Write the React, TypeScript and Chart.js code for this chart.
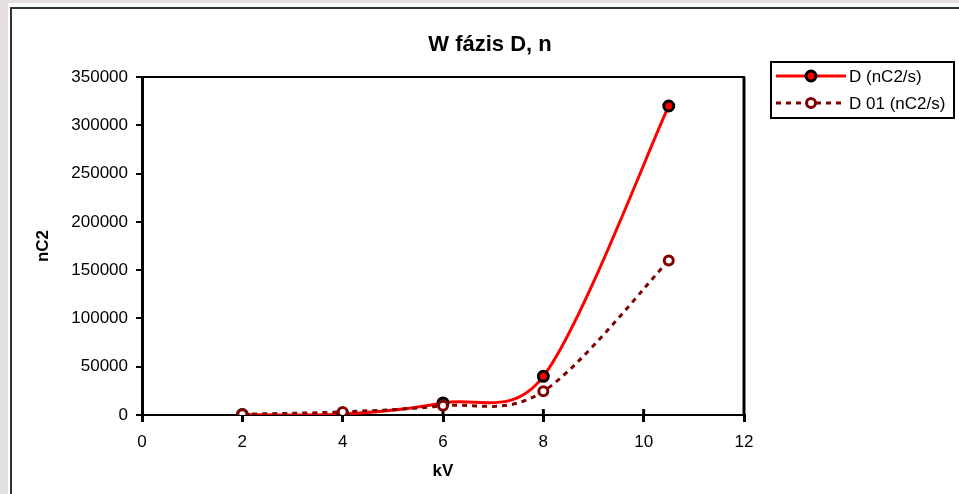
import React, { useEffect, useRef } from "react";
import { Chart, registerables } from "chart.js";

Chart.register(...registerables);

const chartTitle = "W fázis D, n";
const xAxisTitle = "kV";
const yAxisTitle = "nC2";
const xValues = [2, 4, 6, 8, 10.5];
const seriesD = [500, 1000, 12500, 40000, 320000];
const seriesD01 = [800, 3200, 9500, 24500, 160000];
const labelD = "D (nC2/s)";
const labelD01 = "D 01 (nC2/s)";

const RED = "#ff0000";
const DARK_RED = "#800000";
const FONT = "Arial, 'Liberation Sans', sans-serif";

// Excel-like smoothing: handles = (next - prev) / 6, limited to half the adjacent segment
const excelSmoothPlugin = {
  id: "excelSmooth",
  beforeDatasetDraw(chart: any, args: any) {
    const meta = args.meta;
    const line = meta.dataset;
    if (!line) return;
    line.updateControlPoints(chart.chartArea, "x");
    const pts = meta.data;
    const n = pts.length;
    const dist = (a: any, b: any) => Math.hypot(a.x - b.x, a.y - b.y);
    for (let i = 0; i < n; i++) {
      const p = pts[i];
      const prev = pts[Math.max(0, i - 1)];
      const next = pts[Math.min(n - 1, i + 1)];
      const hx = (next.x - prev.x) / 6;
      const hy = (next.y - prev.y) / 6;
      const hl = Math.hypot(hx, hy) || 1;
      const d01 = dist(prev, p);
      const d12 = dist(p, next);
      const s0 = Math.min(1, d01 / 2 / hl);
      const s1 = Math.min(1, d12 / 2 / hl);
      p.cp1x = p.x - hx * s0;
      p.cp1y = p.y - hy * s0;
      p.cp2x = p.x + hx * s1;
      p.cp2y = p.y + hy * s1;
    }
    line._path = undefined;
  },
};

const overlayPlugin = {
  id: "overlay",
  beforeDatasetsDraw(chart: any) {
    const { ctx, chartArea } = chart;
    const { left, right, top, bottom } = chartArea;
    ctx.save();
    ctx.strokeStyle = "#000";
    ctx.lineWidth = 2;
    ctx.beginPath();
    ctx.moveTo(left, top);
    ctx.lineTo(right + 1, top);
    ctx.stroke();
    ctx.lineWidth = 3;
    ctx.beginPath();
    ctx.moveTo(right, top);
    ctx.lineTo(right, bottom);
    ctx.stroke();
    const xs = chart.scales.x;
    ctx.lineWidth = 3;
    xs.ticks.forEach((t: any) => {
      const px = xs.getPixelForValue(t.value);
      if (px <= left + 2 || px >= right - 2) return;
      ctx.beginPath();
      ctx.moveTo(px, bottom - 6);
      ctx.lineTo(px, bottom);
      ctx.stroke();
    });
    ctx.restore();
  },
  afterDraw(chart: any) {
    const { ctx } = chart;
    ctx.save();
    ctx.fillStyle = "#000";
    ctx.font = `bold 22px ${FONT}`;
    ctx.textAlign = "center";
    ctx.textBaseline = "middle";
    ctx.fillText(chartTitle, 490, 45);

    const bx = 771, by = 62, bw = 183, bh = 56;
    ctx.lineWidth = 2;
    ctx.strokeStyle = "#000";
    ctx.strokeRect(bx, by, bw, bh);
    const rows = [
      { y: 76, label: labelD, color: RED, dash: [] as number[], fill: RED, stroke: "#000", r: 5 },
      { y: 103, label: labelD01, color: DARK_RED, dash: [5, 5], fill: "#fff", stroke: DARK_RED, r: 4.5 },
    ];
    rows.forEach((row) => {
      ctx.save();
      ctx.strokeStyle = row.color;
      ctx.lineWidth = 3;
      ctx.setLineDash(row.dash);
      ctx.beginPath();
      ctx.moveTo(776, row.y);
      ctx.lineTo(846, row.y);
      ctx.stroke();
      ctx.setLineDash([]);
      ctx.beginPath();
      ctx.arc(811, row.y, row.r, 0, Math.PI * 2);
      ctx.fillStyle = row.fill;
      ctx.fill();
      ctx.strokeStyle = row.stroke;
      ctx.lineWidth = 3;
      ctx.stroke();
      ctx.restore();
      ctx.fillStyle = "#000";
      ctx.font = `17px ${FONT}`;
      ctx.textAlign = "left";
      ctx.textBaseline = "middle";
      ctx.fillText(row.label, 849, row.y + 1);
    });
    ctx.restore();
  },
};

export default function App() {
  const canvasRef = useRef<HTMLCanvasElement | null>(null);

  useEffect(() => {
    if (!canvasRef.current) return;
    const chart = new Chart(canvasRef.current, {
      type: "line",
      data: {
        datasets: [
          {
            label: labelD01,
            data: xValues.map((x, i) => ({ x, y: seriesD01[i] })),
            borderColor: DARK_RED,
            borderWidth: 3,
            borderDash: [5, 5],
            backgroundColor: "#fff",
            pointBackgroundColor: "#fff",
            pointBorderColor: DARK_RED,
            pointBorderWidth: 3,
            pointRadius: 4.5,
            tension: 0.3,
            fill: false,
          },
          {
            label: labelD,
            data: xValues.map((x, i) => ({ x, y: seriesD[i] })),
            borderColor: RED,
            borderWidth: 3,
            backgroundColor: RED,
            pointBackgroundColor: RED,
            pointBorderColor: "#000",
            pointBorderWidth: 3,
            pointRadius: 5,
            tension: 0.3,
            fill: false,
          },
        ],
      },
      options: {
        responsive: false,
        animation: false,
        layout: { padding: { left: 0, top: 77, right: 215, bottom: 0 } },
        plugins: {
          legend: { display: false },
          title: { display: false },
          tooltip: { enabled: false },
        },
        scales: {
          x: {
            type: "linear",
            min: 0,
            max: 12,
            afterFit: (s: any) => {
              s.height = 79;
            },
            ticks: {
              stepSize: 2,
              font: { family: FONT, size: 17 },
              color: "#000",
              padding: 10,
              maxRotation: 0,
            },
            grid: {
              display: true,
              drawOnChartArea: false,
              drawTicks: true,
              tickLength: 7,
              color: "#000",
              lineWidth: 3,
            },
            border: { display: true, color: "#000", width: 2 },
            title: {
              display: true,
              text: xAxisTitle,
              font: { family: FONT, size: 17, weight: "bold" },
              color: "#000",
              padding: { top: 0, bottom: 12 },
            },
          },
          y: {
            type: "linear",
            min: 0,
            max: 350000,
            afterFit: (s: any) => {
              s.width = 142;
            },
            ticks: {
              stepSize: 50000,
              font: { family: FONT, size: 17 },
              color: "#000",
              padding: 8,
              callback: (v: any) => String(v),
            },
            grid: {
              display: true,
              drawOnChartArea: false,
              drawTicks: true,
              tickLength: 6,
              color: "#000",
              lineWidth: 2,
            },
            border: { display: true, color: "#000", width: 3 },
            title: {
              display: true,
              text: yAxisTitle,
              font: { family: FONT, size: 17, weight: "bold" },
              color: "#000",
              padding: { top: 33, bottom: 0 },
            },
          },
        },
      },
      plugins: [excelSmoothPlugin, overlayPlugin],
    } as any);
    return () => chart.destroy();
  }, []);

  return (
    <div
      style={{
        position: "fixed",
        left: 0,
        top: 0,
        width: 959,
        height: 494,
        overflow: "hidden",
        background: "linear-gradient(180deg, #e4dede 0%, #e2e0e0 100%)",
      }}
    >
      <div style={{ position: "absolute", left: 8, top: 3, width: 951, height: 491, background: "#fff" }} />
      <div
        style={{
          position: "absolute",
          left: 10,
          top: 7,
          width: 949,
          height: 487,
          boxSizing: "border-box",
          borderLeft: "2px solid #333",
          borderTop: "2px solid #333",
          background: "#fff",
        }}
      />
      <canvas ref={canvasRef} width={959} height={494} style={{ position: "absolute", left: 0, top: 0 }} />
    </div>
  );
}
